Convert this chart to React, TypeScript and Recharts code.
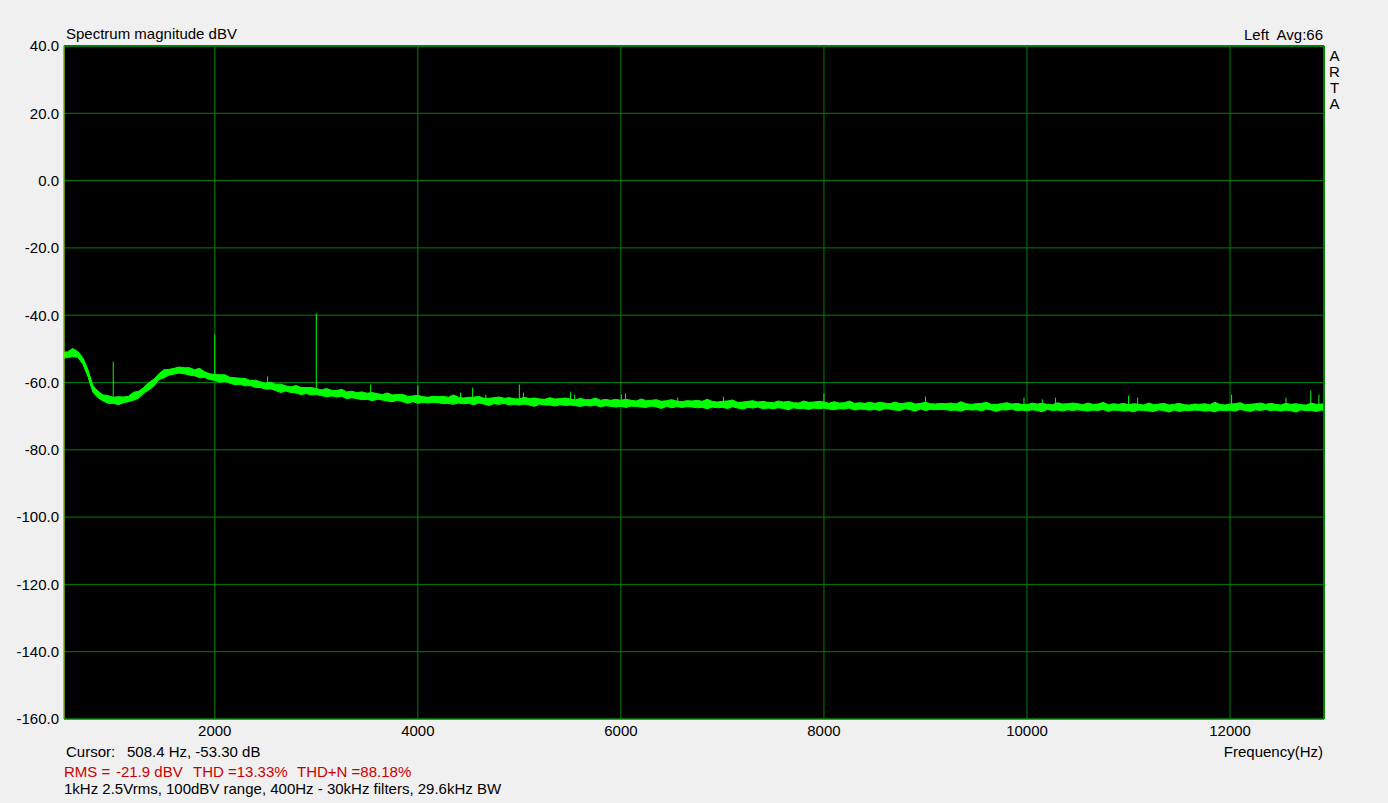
import React from 'react';
import {
  ComposedChart,
  Area,
  XAxis,
  YAxis,
  CartesianGrid,
  ReferenceLine,
} from 'recharts';

// FFT bins: first bin and spacing (Hz)
const binStartHz = 500;
const binStepHz = 50;

// upper edge of the noise trace per bin, dBV (500 Hz per row)
const bandHighDb = [
  -51.0, -50.9, -49.9, -50.8, -52.6, -56.1, -60.9, -62.6, -63.7, -63.9,
  -64.4, -64.2, -64.3, -64.1, -62.9, -62.6, -61.5, -60.0, -59.0, -57.4,
  -56.2, -56.1, -55.8, -55.4, -55.6, -55.6, -56.2, -55.8, -56.8, -57.4,
  -57.6, -57.7, -57.7, -58.5, -58.6, -58.7, -58.8, -59.4, -59.3, -59.8,
  -60.2, -59.9, -60.5, -60.5, -61.0, -61.3, -60.9, -61.5, -61.5, -61.5,
  -61.8, -62.2, -61.8, -62.3, -62.4, -62.0, -62.8, -62.6, -63.0, -62.8,
  -63.2, -63.0, -63.3, -63.6, -63.1, -63.7, -63.6, -63.5, -64.1, -64.0,
  -63.8, -64.2, -64.4, -64.1, -64.2, -64.1, -64.4, -63.7, -64.4, -64.6,
  -64.4, -64.4, -64.1, -64.7, -64.7, -64.5, -64.3, -64.7, -64.5, -64.8,
  -64.9, -64.4, -64.8, -64.6, -64.9, -65.0, -64.5, -64.9, -64.8, -64.6,
  -64.9, -65.2, -64.7, -65.1, -65.1, -64.6, -65.3, -65.0, -65.3, -65.0,
  -65.3, -65.0, -65.3, -65.5, -64.9, -65.4, -65.3, -65.1, -65.6, -65.4,
  -65.1, -65.5, -65.7, -65.4, -65.5, -65.3, -65.6, -65.0, -65.6, -65.8,
  -65.6, -65.5, -65.2, -65.9, -65.8, -65.6, -65.4, -65.8, -65.6, -65.9,
  -66.0, -65.5, -65.8, -65.6, -66.0, -66.1, -65.5, -65.9, -65.8, -65.6,
  -65.8, -66.2, -65.7, -66.1, -66.0, -65.5, -66.2, -66.0, -66.2, -65.9,
  -66.2, -65.9, -66.1, -66.3, -65.8, -66.3, -66.1, -65.9, -66.4, -66.2,
  -65.9, -66.3, -66.4, -66.2, -66.3, -66.1, -66.4, -65.7, -66.3, -66.5,
  -66.3, -66.2, -65.9, -66.5, -66.5, -66.3, -66.0, -66.4, -66.2, -66.5,
  -66.6, -66.1, -66.4, -66.2, -66.5, -66.6, -66.0, -66.4, -66.3, -66.1,
  -66.3, -66.6, -66.1, -66.5, -66.4, -65.9, -66.6, -66.3, -66.5, -66.2,
  -66.6, -66.3, -66.5, -66.7, -66.1, -66.6, -66.4, -66.2, -66.7, -66.5,
  -66.2, -66.6, -66.7, -66.4, -66.5, -66.3, -66.6, -65.9, -66.5, -66.7,
  -66.4, -66.3, -66.0, -66.6, -66.5, -66.3, -66.1, -66.5, -66.2, -66.5,
  -66.7, -66.2, -66.5, -66.3, -66.6, -66.7, -66.1, -66.5, -66.4, -66.2,
];

// lower edge of the noise trace per bin, dBV
const bandLowDb = [
  -52.8, -52.6, -52.3, -52.5, -54.5, -58.2, -62.9, -64.5, -65.5, -66.2,
  -66.2, -66.6, -66.0, -65.7, -65.3, -64.6, -63.2, -62.2, -61.1, -59.1,
  -58.6, -57.8, -57.5, -57.2, -57.4, -57.8, -58.0, -58.6, -58.5, -59.1,
  -59.4, -59.9, -59.7, -60.2, -60.7, -60.5, -61.0, -60.9, -61.5, -61.5,
  -62.0, -61.9, -62.4, -63.0, -62.5, -63.0, -63.1, -63.6, -63.3, -63.7,
  -63.6, -63.9, -64.2, -64.0, -64.3, -64.1, -64.8, -64.5, -64.8, -65.1,
  -65.0, -65.4, -65.0, -65.2, -65.5, -65.7, -65.3, -65.7, -66.2, -65.7,
  -66.2, -65.9, -66.1, -65.9, -66.0, -66.3, -66.2, -66.5, -66.1, -66.3,
  -66.2, -66.6, -66.1, -66.4, -66.8, -66.3, -66.5, -66.2, -66.7, -66.5,
  -66.7, -66.4, -66.7, -67.1, -66.4, -66.7, -66.7, -67.0, -66.6, -66.8,
  -66.7, -66.9, -67.1, -66.8, -67.0, -66.7, -67.3, -66.9, -67.1, -67.3,
  -67.1, -67.4, -67.0, -67.1, -67.3, -67.4, -67.0, -67.3, -67.7, -67.1,
  -67.5, -67.2, -67.4, -67.2, -67.3, -67.5, -67.4, -67.8, -67.3, -67.5,
  -67.4, -67.7, -67.2, -67.6, -67.9, -67.4, -67.6, -67.3, -67.8, -67.6,
  -67.8, -67.5, -67.7, -68.1, -67.5, -67.8, -67.7, -68.0, -67.6, -67.8,
  -67.6, -67.9, -68.1, -67.8, -67.9, -67.6, -68.2, -67.9, -68.0, -68.2,
  -68.0, -68.3, -67.8, -67.9, -68.2, -68.3, -67.8, -68.1, -68.5, -67.9,
  -68.3, -68.0, -68.1, -68.0, -68.1, -68.3, -68.2, -68.5, -68.0, -68.2,
  -68.1, -68.4, -67.9, -68.2, -68.6, -68.1, -68.2, -67.9, -68.4, -68.2,
  -68.4, -68.1, -68.3, -68.7, -68.0, -68.3, -68.2, -68.5, -68.1, -68.3,
  -68.1, -68.3, -68.5, -68.2, -68.3, -68.0, -68.6, -68.2, -68.3, -68.5,
  -68.4, -68.7, -68.2, -68.3, -68.5, -68.6, -68.1, -68.4, -68.8, -68.2,
  -68.6, -68.3, -68.4, -68.2, -68.3, -68.5, -68.4, -68.7, -68.2, -68.4,
  -68.2, -68.5, -68.0, -68.3, -68.6, -68.1, -68.3, -68.0, -68.4, -68.2,
  -68.5, -68.2, -68.4, -68.8, -68.1, -68.4, -68.3, -68.6, -68.2, -68.4,
];

// harmonic / spur lines: frequency, top level, floor level under it
const spikeHz = [
  1000, 2000, 2520, 3000, 3535, 4000, 4420, 4540, 4670, 5000,
  5040, 5505, 5545, 6005, 6045, 6560, 7010, 8000, 9000, 9970,
  10150, 10280, 11000, 11090, 12015, 12550, 12795, 12875,
];
const spikeTopDb = [
  -53.8, -45.7, -58.2, -39.5, -60.6, -60.9, -63.0, -61.5, -63.6, -60.6,
  -63.0, -62.7, -63.6, -63.6, -63.3, -64.5, -64.2, -63.3, -64.2, -64.5,
  -65.0, -64.5, -63.9, -64.5, -63.6, -64.5, -62.4, -63.6,
];
const spikeBaseDb = [
  -65.2, -58.5, -60.9, -62.8, -64.0, -65.0, -65.3, -65.4, -65.5, -65.6,
  -65.6, -65.9, -65.9, -66.1, -66.1, -66.3, -66.5, -66.8, -67.1, -67.2,
  -67.25, -67.3, -67.35, -67.35, -67.35, -67.35, -67.35, -67.35,
];

const freqTicks = [2000, 4000, 6000, 8000, 10000, 12000];
const dbTicks = [-160, -140, -120, -100, -80, -60, -40, -20, 0, 20, 40];
const freqDomain = [515, 12925];

const FONT = '"Liberation Sans", Arial, sans-serif';
const GRID = '#008000';
const TRACE = '#00ff00';

const rows = bandHighDb.map((hi, i) => ({
  hz: binStartHz + i * binStepHz,
  band: [bandLowDb[i], hi],
}));

const App: React.FC = () => {
  return (
    <div
      style={{
        position: 'absolute',
        left: 0,
        top: 0,
        width: 1388,
        height: 803,
        background: '#f0f0f0',
        fontFamily: FONT,
      }}
    >
      <ComposedChart
        width={1388}
        height={803}
        data={rows}
        margin={{ top: 46, right: 64, bottom: 54, left: 0 }}
      >
        <CartesianGrid stroke={GRID} fill="#000" strokeWidth={1} />
        <XAxis
          dataKey="hz"
          type="number"
          domain={freqDomain}
          ticks={freqTicks}
          allowDataOverflow
          height={30}
          tickLine={false}
          tickSize={0}
          tickMargin={6}
          axisLine={{ stroke: GRID }}
          tick={{ fill: '#000', fontSize: 15, fontFamily: FONT }}
        />
        <YAxis
          type="number"
          domain={[-160, 40]}
          ticks={dbTicks}
          allowDataOverflow
          width={64}
          tickLine={false}
          tickSize={0}
          tickMargin={5}
          axisLine={{ stroke: '#c8c800' }}
          tickFormatter={(v: number) => v.toFixed(1)}
          tick={{ fill: '#000', fontSize: 15, fontFamily: FONT }}
        />
        <ReferenceLine x={freqDomain[1]} stroke={GRID} strokeWidth={2} />
        <ReferenceLine y={40} stroke={GRID} strokeWidth={2} />
        {spikeHz.map((hz, i) => (
          <ReferenceLine
            key={hz}
            segment={[
              { x: hz, y: spikeBaseDb[i] },
              { x: hz, y: spikeTopDb[i] },
            ]}
            stroke={TRACE}
            strokeWidth={1}
          />
        ))}
        <Area
          type="linear"
          dataKey="band"
          stroke={TRACE}
          strokeWidth={1}
          fill={TRACE}
          fillOpacity={1}
          dot={false}
          activeDot={false}
          isAnimationActive={false}
        />
      </ComposedChart>

      <svg
        width={1388}
        height={803}
        style={{ position: 'absolute', left: 0, top: 0, pointerEvents: 'none' }}
        fontFamily={FONT}
        fontSize={15}
      >
        <text x={66} y={39} fill="#000">Spectrum magnitude dBV</text>
        <text x={1323} y={40} fill="#000" textAnchor="end" xmlSpace="preserve">Left  Avg:66</text>
        {['A', 'R', 'T', 'A'].map((ch, i) => (
          <text key={i} x={1334.5} y={61 + i * 16} fill="#000" textAnchor="middle">{ch}</text>
        ))}
        <text x={66} y={757} fill="#000">Cursor:</text>
        <text x={127} y={757} fill="#000">508.4 Hz, -53.30 dB</text>
        <text x={1323} y={757} fill="#000" textAnchor="end">Frequency(Hz)</text>
        <text x={64} y={777} fill="#cc0000">RMS =</text>
        <text x={116} y={777} fill="#cc0000">-21.9 dBV</text>
        <text x={193} y={777} fill="#cc0000">THD =13.33%</text>
        <text x={297} y={777} fill="#cc0000">THD+N =88.18%</text>
        <text x={64} y={794} fill="#000">1kHz 2.5Vrms, 100dBV range, 400Hz - 30kHz filters, 29.6kHz BW</text>
      </svg>
    </div>
  );
};

export default App;
